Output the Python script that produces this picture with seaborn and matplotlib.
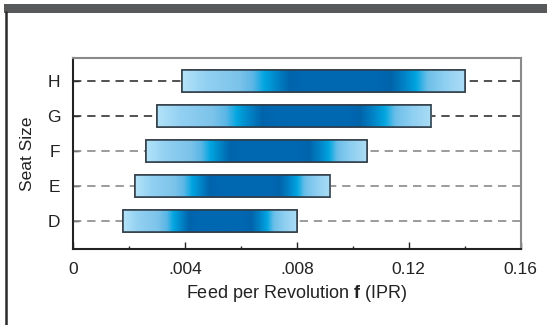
import numpy as np
import pandas as pd
import matplotlib
matplotlib.use("Agg")
import matplotlib.pyplot as plt
from matplotlib.colors import LinearSegmentedColormap
from matplotlib.patches import Rectangle
from matplotlib.lines import Line2D
import seaborn as sns

# ---- data ----
seat_sizes = ["D", "E", "F", "G", "H"]
feed_min = [0.0018, 0.0022, 0.0026, 0.0030, 0.0039]
feed_max = [0.0080, 0.0092, 0.0105, 0.0128, 0.0140]
xtick_values = [0, 0.004, 0.008, 0.012, 0.016]
xtick_labels = ["0", ".004", ".008", "0.12", "0.16"]
dash_colors = ["#8a8a8a", "#8a8a8a", "#8a8a8a", "#333333", "#333333"]

sns.set_theme(style="white")
plt.rcParams["font.family"] = ["Liberation Sans", "DejaVu Sans"]
plt.rcParams["mathtext.fontset"] = "custom"
plt.rcParams["mathtext.bf"] = "Liberation Sans:bold"
plt.rcParams["mathtext.rm"] = "Liberation Sans"

df = pd.DataFrame({"size": seat_sizes, "lo": feed_min, "hi": feed_max})
df["pos"] = np.arange(len(df))

fig = plt.figure(figsize=(5.47, 3.25), dpi=100)
ax = fig.add_axes([73 / 547, 1 - 249 / 325, (520.5 - 73) / 547, (249 - 58) / 325])

# gradient colormap (light ends, dark middle)
stops = [
    (0.00, "#b3e3f9"), (0.08, "#93d1f2"), (0.20, "#7cc3ea"), (0.25, "#5ab6e6"),
    (0.29, "#00a5e0"), (0.34, "#0080c4"), (0.38, "#0064ab"), (0.42, "#0067b1"),
    (0.70, "#0067b1"), (0.74, "#0064ab"), (0.79, "#0084c8"), (0.83, "#00a5e0"),
    (0.87, "#6cbfe9"), (0.93, "#8ecff1"), (1.00, "#abdcf5"),
]
cmap = LinearSegmentedColormap.from_list("seat", stops)
grad = np.linspace(0, 1, 400).reshape(1, -1)

# dashed reference lines
for _, r in df.iterrows():
    ax.axhline(r["pos"], color=dash_colors[int(r["pos"])], lw=1.2,
               ls=(0, (5, 3.5)), zorder=1)

bars = ax.barh(df["pos"], df["hi"] - df["lo"], left=df["lo"], height=0.62,
               facecolor="white", edgecolor="#2f3b45", linewidth=1.1, zorder=2)
for b in bars:
    x0, y0 = b.get_x(), b.get_y()
    w, h = b.get_width(), b.get_height()
    im = ax.imshow(grad, extent=[x0, x0 + w, y0, y0 + h], aspect="auto",
                   cmap=cmap, zorder=3, interpolation="bilinear")
    im.set_clip_path(b)
    ax.add_patch(Rectangle((x0, y0), w, h, fill=False, edgecolor="#2f3b45",
                           linewidth=1.1, zorder=4))

ax.set_xlim(0, 0.016)
ax.set_ylim(-0.8, 4.66)
ax.set_xticks(xtick_values)
ax.set_xticklabels(xtick_labels)
ax.set_xticks(np.arange(0.002, 0.016, 0.004), minor=True)
ax.set_yticks(df["pos"])
ax.set_yticklabels(df["size"])
fs = 12.5
ax.tick_params(axis="x", which="major", direction="in", length=5, width=1,
               color="#222222", labelsize=fs, pad=9, labelcolor="#222222", bottom=True)
ax.tick_params(axis="x", which="minor", direction="in", length=2.5, width=1,
               color="#222222", bottom=True)
ax.tick_params(axis="y", direction="in", length=4, width=1, color="#222222",
               labelsize=fs, pad=9, labelcolor="#222222", left=True)

for s in ["left", "bottom"]:
    ax.spines[s].set_color("#222222")
    ax.spines[s].set_linewidth(1.5)
for s in ["top", "right"]:
    ax.spines[s].set_color("#8a8a8a")
    ax.spines[s].set_linewidth(1.5)

ax.set_xlabel(r"Feed per Revolution $\mathbf{f}$ (IPR)", fontsize=13,
              color="#222222", labelpad=5)
ax.set_ylabel("Seat Size", fontsize=fs, color="#222222", labelpad=9)

# decorative frame: top band and left border
fig.add_artist(Rectangle((4 / 547, 1 - 12.5 / 325), 1, 8.5 / 325,
                         transform=fig.transFigure, facecolor="#58595b",
                         edgecolor="none"))
fig.add_artist(Line2D([6 / 547, 6 / 547], [0, 1 - 12 / 325],
                      transform=fig.transFigure, color="#2a2a2a", lw=1.8))

fig.savefig("out.png", dpi=100)
